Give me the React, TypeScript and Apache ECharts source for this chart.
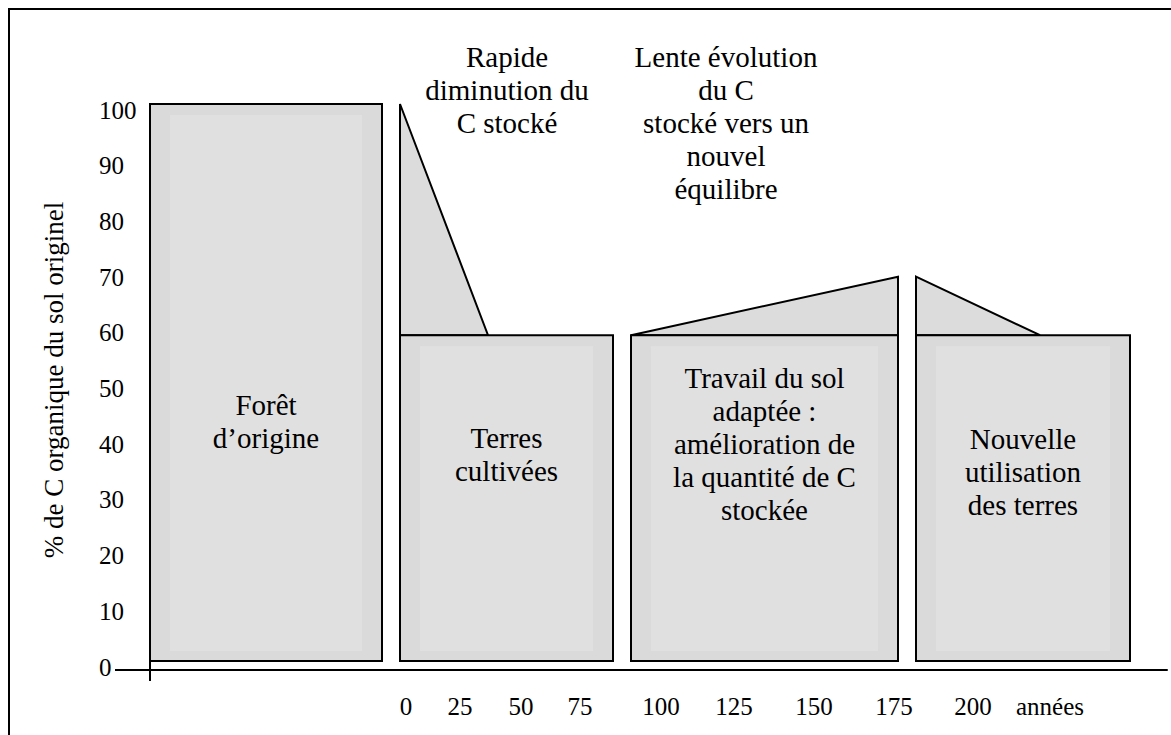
import React, { useEffect, useRef } from 'react';
import * as echarts from 'echarts';

// Schematic blocks (horizontal axis: schematic position, vertical: % of original soil organic C)
const blockNames = [
  'Forêt\nd’origine',
  'Terres\ncultivées',
  'Travail du sol\nadaptée :\namélioration de\nla quantité de C\nstockée',
  'Nouvelle\nutilisation\ndes terres',
];
const blockStart = [0, 250, 481, 766];
const blockEnd = [232, 463, 748, 980];
const blockLevel = [100, 58.5, 58.5, 58.5];

// Transition wedges (start point -> end point)
const trendStartPos = [250, 481, 766];
const trendStartVal = [100, 58.5, 69];
const trendEndPos = [338, 748, 890];
const trendEndVal = [58.5, 69, 58.5];

// Year tick labels on the schematic axis
const yearTickPos = [256, 310, 371, 430, 511, 584, 664, 744, 823, 900];
const yearTickLabels = ['0', '25', '50', '75', '100', '125', '150', '175', '200', 'années'];

const yAxisName = '% de C organique du sol originel';
const noteLeft = 'Rapide\ndiminution du\nC stocké';
const noteRight = 'Lente évolution\ndu C\nstocké vers un\nnouvel\néquilibre';

// layout of block captions (value level of caption centre)
const captionLevel = [43, 37, 39, 34];

const FONT = "'Liberation Serif', 'Times New Roman', 'DejaVu Serif', serif";

export default function App() {
  const ref = useRef<HTMLDivElement>(null);
  useEffect(() => {
    if (!ref.current) return;
    const chart = echarts.init(ref.current, undefined, { renderer: 'svg' });
    const blockData = blockStart.map((s, i) => [s, blockEnd[i], blockLevel[i], captionLevel[i]]);
    const trendData = trendStartPos.map((s, i) => [s, trendStartVal[i], trendEndPos[i], trendEndVal[i]]);
    const option: any = {
      animation: false,
      backgroundColor: '#ffffff',
      textStyle: { fontFamily: FONT },
      grid: { left: 150, right: 4, top: 104, bottom: 74 },
      xAxis: {
        type: 'value',
        min: 0,
        max: 1017,
        offset: 9,
        axisLine: { onZero: false, lineStyle: { color: '#000', width: 2 } },
        axisTick: { show: false },
        splitLine: { show: false },
        axisLabel: {
          customValues: yearTickPos,
          formatter: (v: number) => {
            const i = yearTickPos.indexOf(v);
            return i >= 0 ? yearTickLabels[i] : '';
          },
          fontFamily: FONT,
          fontSize: 25,
          color: '#000',
          margin: 24,
        },
      },
      yAxis: {
        type: 'value',
        min: 0,
        max: 100,
        interval: 10,
        axisLine: { show: true, lineStyle: { color: '#000', width: 2 } },
        axisTick: { show: false },
        splitLine: { show: false },
        axisLabel: {
          margin: 13,
          fontFamily: FONT,
          fontSize: 25,
          color: '#000',
          formatter: (v: number) => '{a|' + v + '}',
          rich: {
            a: {
              width: 38,
              align: 'left',
              fontFamily: FONT,
              fontSize: 25,
              color: '#000',
              padding: [12, 0, 0, 0],
            },
          },
        },
      },
      series: [
        {
          type: 'custom',
          name: 'transitions',
          data: trendData,
          renderItem: (params: any, api: any) => {
            const sp = api.value(0), sv = api.value(1), ep = api.value(2), ev = api.value(3);
            const corner = sv > ev ? [sp, ev] : [ep, sv];
            const pts = [api.coord([sp, sv]), api.coord([ep, ev]), api.coord(corner)];
            return {
              type: 'polygon',
              shape: { points: pts },
              style: { fill: '#dcdcdc', stroke: '#000', lineWidth: 2 },
            };
          },
          z: 2,
        },
        {
          type: 'custom',
          name: 'blocks',
          data: blockData,
          renderItem: (params: any, api: any) => {
            const s = api.value(0), e = api.value(1), lv = api.value(2), cl = api.value(3);
            const p0 = api.coord([s, lv]);
            const p1 = api.coord([e, 0]);
            const c = api.coord([(s + e) / 2, cl]);
            const w = p1[0] - p0[0];
            const h = p1[1] - p0[1];
            return {
              type: 'group',
              children: [
                {
                  type: 'rect',
                  shape: { x: p0[0], y: p0[1], width: w, height: h },
                  style: { fill: '#dadada', stroke: '#000', lineWidth: 2 },
                },
                {
                  type: 'rect',
                  shape: { x: p0[0] + 20, y: p0[1] + 11, width: w - 40, height: h - 21 },
                  style: { fill: '#e0e0e0' },
                },
                {
                  type: 'text',
                  x: c[0],
                  y: c[1],
                  style: {
                    text: blockNames[params.dataIndex],
                    align: 'center',
                    verticalAlign: 'middle',
                    fontFamily: FONT,
                    fontSize: 29,
                    lineHeight: 33,
                    fill: '#000',
                  },
                },
              ],
            };
          },
          z: 3,
        },
      ],
      graphic: [
        {
          type: 'rect',
          silent: true,
          shape: { x: 9, y: 9, width: 1400, height: 1000 },
          style: { fill: 'none', stroke: '#000', lineWidth: 2 },
        },
        {
          type: 'line',
          silent: true,
          shape: { x1: 150, y1: 660, x2: 150, y2: 681 },
          style: { stroke: '#000', lineWidth: 2 },
        },
        {
          type: 'line',
          silent: true,
          shape: { x1: 115, y1: 670, x2: 151, y2: 670 },
          style: { stroke: '#000', lineWidth: 2 },
        },
        {
          type: 'text',
          x: 54,
          y: 380,
          rotation: Math.PI / 2,
          style: {
            text: yAxisName,
            align: 'center',
            verticalAlign: 'middle',
            fontFamily: FONT,
            fontSize: 27,
            fill: '#000',
          },
        },
        {
          type: 'text',
          x: 507,
          y: 40,
          style: {
            text: noteLeft,
            align: 'center',
            verticalAlign: 'top',
            fontFamily: FONT,
            fontSize: 29,
            lineHeight: 33,
            fill: '#000',
          },
        },
        {
          type: 'text',
          x: 726,
          y: 40,
          style: {
            text: noteRight,
            align: 'center',
            verticalAlign: 'top',
            fontFamily: FONT,
            fontSize: 29,
            lineHeight: 33,
            fill: '#000',
          },
        },
      ],
    };
    chart.setOption(option);
    return () => chart.dispose();
  }, []);
  return (
    <div
      ref={ref}
      style={{ position: 'absolute', left: 0, top: 0, width: 1171, height: 735 }}
    />
  );
}
